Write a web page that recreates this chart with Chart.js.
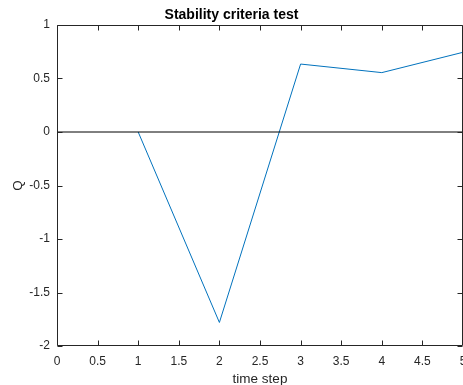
<!DOCTYPE html>
<html>
<head>
<meta charset="utf-8">
<script src="https://cdn.jsdelivr.net/npm/chart.js@4/dist/chart.umd.min.js"></script>
<style>
  html, body { margin: 0; padding: 0; background: #fff; }
  #wrap { width: 463px; height: 385px; }
</style>
</head>
<body>
<div id="wrap"><canvas id="stability-chart"></canvas></div>
<script>
/* =====================================
   DATA
======================================== */

const timeSteps = [1, 2, 3, 4, 5];
const qValues = [0, -1.78, 0.635, 0.555, 0.745];

const zeroLineX = [0, 5];
const zeroLineY = [0, 0];

const xTicks = [0, 0.5, 1, 1.5, 2, 2.5, 3, 3.5, 4, 4.5, 5];
const yTicks = [-2, -1.5, -1, -0.5, 0, 0.5, 1];

const axisColor = '#262626';
const fontFamily = 'Liberation Sans, Arial, Helvetica';

/* =====================================
   Box + inward ticks (matlab style)
======================================== */

const boxPlugin = {
    id: 'box',
    afterDraw(chart) {
        const ctx = chart.ctx;
        const a = chart.chartArea;
        const xs = chart.scales.x;
        const ys = chart.scales.y;
        const len = 5;
        ctx.save();
        ctx.strokeStyle = axisColor;
        ctx.lineWidth = 1;
        const l = Math.round(a.left) + 0.5;
        const r = Math.round(a.right) - 0.5;
        const t = Math.round(a.top) + 0.5;
        const b = Math.round(a.bottom) - 0.5;
        ctx.beginPath();
        ctx.rect(l, t, r - l, b - t);
        xTicks.forEach(v => {
            const px = Math.round(xs.getPixelForValue(v)) + 0.5;
            ctx.moveTo(px, b); ctx.lineTo(px, b - len);
            ctx.moveTo(px, t); ctx.lineTo(px, t + len);
        });
        yTicks.forEach(v => {
            const py = Math.round(ys.getPixelForValue(v)) + 0.5;
            ctx.moveTo(l, py); ctx.lineTo(l + len, py);
            ctx.moveTo(r, py); ctx.lineTo(r - len, py);
        });
        ctx.stroke();
        ctx.restore();
    }
};

/* =====================================
   CHART
======================================== */

const canvas = document.getElementById('stability-chart');

const stabilityChart = new Chart(canvas, {
    type: 'line',
    data: {
        datasets: [{
            data: zeroLineX.map((x, i) => ({ x: x, y: zeroLineY[i] })),
            borderColor: '#000000',
            borderWidth: 1,
            pointRadius: 0,
            tension: 0
        }, {
            data: timeSteps.map((x, i) => ({ x: x, y: qValues[i] })),
            borderColor: '#0072BD',
            borderWidth: 1,
            pointRadius: 0,
            tension: 0
        }]
    },
    options: {
        responsive: true,
        maintainAspectRatio: false,
        animation: false,
        layout: { padding: 0 },
        plugins: {
            legend: { display: false },
            tooltip: { enabled: false },
            title: {
                display: true,
                text: 'Stability criteria test',
                color: '#000',
                font: { family: fontFamily, size: 14, weight: 'bold' },
                padding: { top: 7, bottom: 1.2 }
            }
        },
        scales: {
            x: {
                type: 'linear',
                min: 0,
                max: 5,
                afterBuildTicks: s => { s.ticks = xTicks.map(v => ({ value: v })); },
                afterFit: s => { s.height = 39; s.paddingLeft = 0; s.paddingRight = 0; },
                grid: { display: false, drawTicks: false },
                border: { display: false },
                ticks: {
                    color: axisColor,
                    padding: 8,
                    maxRotation: 0,
                    autoSkip: false,
                    callback: v => String(v),
                    font: { family: fontFamily, size: 12 }
                },
                title: {
                    display: true,
                    text: 'time step',
                    color: axisColor,
                    padding: { top: 0, bottom: 0 },
                    font: { family: fontFamily, size: 13.5, lineHeight: 0.8 }
                }
            },
            y: {
                type: 'linear',
                min: -2,
                max: 1,
                afterBuildTicks: s => { s.ticks = yTicks.map(v => ({ value: v })); },
                afterFit: s => { s.width = 57; s.paddingTop = 0; s.paddingBottom = 0; },
                grid: { display: false, drawTicks: false },
                border: { display: false },
                ticks: {
                    color: axisColor,
                    padding: 7,
                    autoSkip: false,
                    callback: v => String(v),
                    font: { family: fontFamily, size: 12 }
                },
                title: {
                    display: true,
                    text: 'Q',
                    color: axisColor,
                    padding: { top: 12, bottom: 12 },
                    font: { family: fontFamily, size: 13.5, lineHeight: 1 }
                }
            }
        }
    },
    plugins: [boxPlugin]
});
</script>
</body>
</html>
